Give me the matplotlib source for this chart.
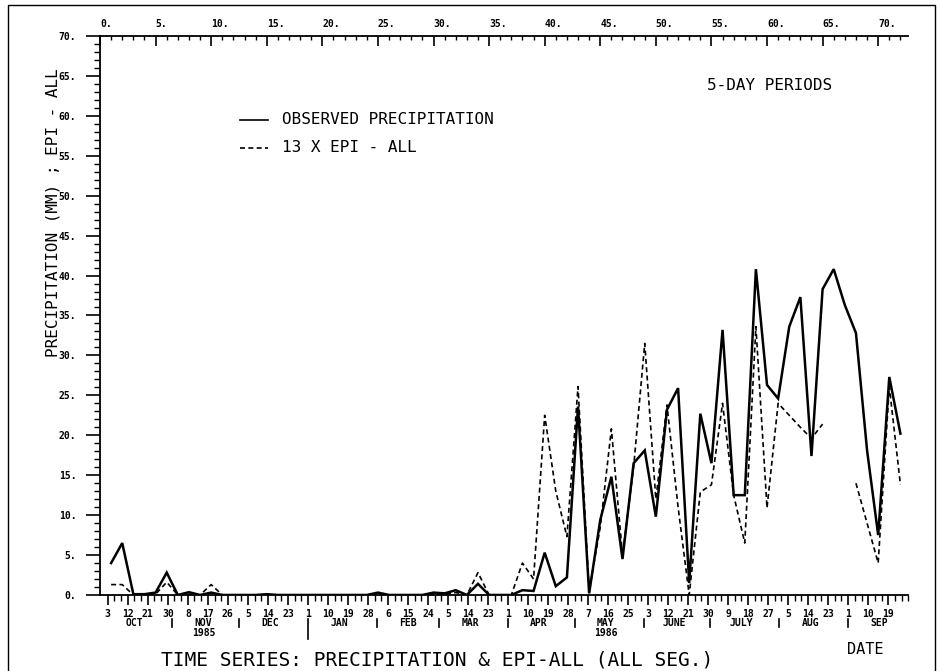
import numpy as np
import pandas as pd
import matplotlib
matplotlib.use("Agg")
import matplotlib.pyplot as plt
from matplotlib.ticker import MultipleLocator
from matplotlib.lines import Line2D

plt.rcParams['font.family'] = ['DejaVu Sans Mono']

# 5-day period index
periods = np.arange(1, 73)

# observed precipitation (mm) per 5-day period
observed = [4.0, 6.5, 0.1, 0.1, 0.3, 2.8, 0.0, 0.35, 0.0, 0.3,
            0.0, 0.0, 0.0, 0.0, 0.1, 0.0, 0.0, 0.0, 0.0, 0.0,
            0.0, 0.0, 0.0, 0.0, 0.3, 0.0, 0.0, 0.0, 0.0, 0.3,
            0.2, 0.6, 0.0, 1.4, 0.0, 0.0, 0.0, 0.6, 0.5, 5.3,
            1.1, 2.2, 23.6, 0.2, 9.4, 14.8, 4.5, 16.5, 18.1, 9.8,
            23.2, 25.9, 1.5, 22.7, 16.5, 33.2, 12.5, 12.5, 40.8, 26.3,
            24.6, 33.6, 37.3, 17.4, 38.3, 40.8, 36.3, 32.8, 18.1, 7.5,
            27.3, 20.2]

# 13 x EPI - ALL (missing periods as nan)
epi13 = [1.3, 1.3, 0.0, 0.0, 0.1, 1.6, 0.0, 0.1, 0.0, 1.3,
         0.0, 0.0, 0.0, 0.0, 0.0, 0.0, 0.0, 0.0, 0.0, 0.0,
         0.0, 0.0, 0.0, 0.0, 0.1, 0.0, 0.0, 0.0, 0.0, 0.1,
         0.1, 0.3, 0.0, 2.8, 0.0, 0.0, 0.0, 4.0, 2.0, 22.5,
         13.0, 7.3, 26.1, 0.5, 8.5, 20.8, 5.0, 16.0, 31.5, 12.0,
         23.8, 11.0, 0.0, 12.9, 13.8, 24.0, 12.5, 6.5, 33.6, 10.9,
         24.0, 22.5, 21.0, 19.6, 21.4, np.nan, np.nan, 14.0, 9.0, 4.0,
         26.1, 13.8]

# date axis
start = pd.Timestamp('1985-10-01')
label_dates = pd.date_range('1985-10-03', periods=40, freq='9D')
minor_dates = pd.date_range('1985-10-03', '1986-09-28', freq='3D')
month_names = ['OCT', 'NOV', 'DEC', 'JAN', 'FEB', 'MAR', 'APR', 'MAY',
               'JUNE', 'JULY', 'AUG', 'SEP']
month_starts = pd.date_range('1985-10-01', periods=12, freq='MS')


def date_to_x(d):
    return ((d - start).days + 1.5) / 5.0


fig = plt.figure(figsize=(9.39, 6.71), dpi=100)
ax = fig.add_axes([0.1065, 0.1133, 0.8607, 0.8331])
ax.set_xlim(0, 72.1)
ax.set_ylim(0, 70)

ax.plot(periods, observed, color='black', lw=1.8, solid_joinstyle='miter')
ax.plot(periods, epi13, color='black', lw=1.2, dashes=(3, 2))

for s in ['right', 'top']:
    ax.spines[s].set_visible(False)
for s in ['left', 'bottom']:
    ax.spines[s].set_linewidth(1.3)

# y axis
ax.set_yticks(np.arange(0, 71, 5))
ax.set_yticklabels([f"{v}." for v in range(0, 71, 5)], fontsize=7, fontweight='bold')
ax.yaxis.set_minor_locator(MultipleLocator(1))
ax.tick_params(axis='y', which='major', direction='out', length=10, width=1.2, pad=7)
ax.tick_params(axis='y', which='minor', direction='out', length=4, width=1)

# top axis: period numbers
secax = ax.secondary_xaxis('top')
secax.set_xticks(np.arange(0, 71, 5))
secax.set_xticklabels([f"{v}." for v in range(0, 71, 5)], fontsize=7,
                      fontweight='bold', ha='left')
secax.xaxis.set_minor_locator(MultipleLocator(1))
secax.tick_params(which='major', direction='in', length=7, width=1.2, pad=5)
secax.tick_params(which='minor', direction='in', length=3, width=1)
secax.spines['top'].set_linewidth(1.3)

# bottom axis: dates
ax.set_xticks([date_to_x(d) for d in label_dates])
ax.set_xticklabels([str(d.day) for d in label_dates], fontsize=7, fontweight='bold')
ax.set_xticks([date_to_x(d) for d in minor_dates], minor=True)
ax.tick_params(axis='x', which='major', direction='out', length=7, width=1.2, pad=3)
ax.tick_params(axis='x', which='minor', direction='out', length=4, width=1)

tr = ax.get_xaxis_transform()
for i, name in enumerate(month_names):
    mid = month_starts[i] + pd.Timedelta(days=14)
    ax.text(date_to_x(mid), -0.050, name, transform=tr, ha='center', va='center',
            fontsize=7, fontweight='bold', clip_on=False)
for d in month_starts[1:]:
    y1 = -0.078 if d.month == 1 else -0.058
    ax.plot([date_to_x(d)] * 2, [-0.043, y1], transform=tr, color='black',
            lw=1.2, clip_on=False)
ax.text(date_to_x(pd.Timestamp('1985-11-15')), -0.068, '1985', transform=tr,
        ha='center', va='center', fontsize=7, fontweight='bold', clip_on=False)
ax.text(date_to_x(pd.Timestamp('1986-05-15')), -0.068, '1986', transform=tr,
        ha='center', va='center', fontsize=7, fontweight='bold', clip_on=False)

# legend drawn by hand
ax.plot([0.173, 0.208], [0.850, 0.850], transform=ax.transAxes, color='black', lw=1.2)
ax.text(0.225, 0.850, 'OBSERVED PRECIPITATION', transform=ax.transAxes,
        va='center', fontsize=11.5)
ax.plot([0.173, 0.208], [0.800, 0.800], transform=ax.transAxes, color='black',
        lw=1.2, dashes=(3, 2))
ax.text(0.225, 0.800, '13 X EPI - ALL', transform=ax.transAxes,
        va='center', fontsize=11.5)
ax.text(0.829, 0.912, '5-DAY PERIODS', transform=ax.transAxes,
        ha='center', va='center', fontsize=11.5)

fig.text(53 / 939, 1 - 213 / 671, 'PRECIPITATION (MM) ; EPI - ALL', rotation=90,
         ha='center', va='center', fontsize=11.5)
fig.text(865 / 939, 1 - 650 / 671, 'DATE', ha='center', va='center', fontsize=11)
fig.text(437 / 939, 1 - 660 / 671, 'TIME SERIES: PRECIPITATION & EPI-ALL (ALL SEG.)',
         ha='center', va='center', fontsize=14)

# outer frame
fig.add_artist(Line2D([8 / 939, 8 / 939, 935 / 939, 935 / 939],
                      [0, 1 - 5 / 671, 1 - 5 / 671, 0],
                      transform=fig.transFigure, color='black', lw=1))

fig.savefig('out.png', dpi=100)
